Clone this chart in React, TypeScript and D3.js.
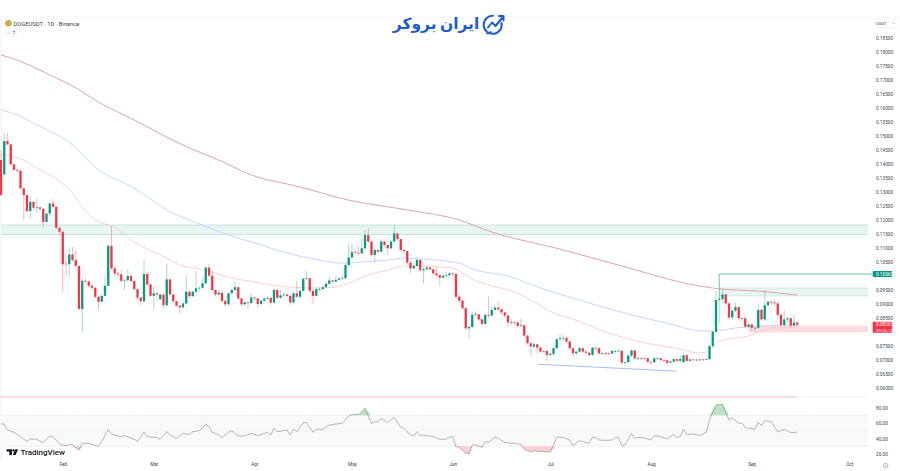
import React, { useEffect, useRef } from 'react';
import * as d3 from 'd3';

// first daily candle of the visible range
const firstDay = Date.UTC(2025, 0, 13);
const dayMs = 86400000;

const opens = [
  .1414, .1363, .1482, .1470, .1399, .1379, .1376, .1313, .1289, .1232,
  .1265, .1244, .1245, .1240, .1193, .1223, .1259, .1247, .1172, .1158,
  .1044, .1042, .1077, .1057, .1036, .0882, .0983, .0980, .0965, .0958,
  .0926, .0908, .0929, .0965, .1108, .1027, .1009, .1006, .0983, .0985,
  .1000, .0982, .0953, .0923, .0910, .1007, .0970, .0929, .0938, .0917,
  .0934, .0896, .0988, .0934, .0910, .0894, .0888, .0902, .0944, .0928,
  .0944, .0956, .0958, .0974, .1030, .1001, .0950, .0934, .0940, .0911,
  .0899, .0938, .0950, .0960, .0920, .0899, .0906, .0903, .0923, .0920,
  .0900, .0912, .0919, .0922, .0905, .0950, .0922, .0931, .0934, .0929,
  .0906, .0938, .0926, .0947, .0990, .0992, .0947, .0929, .0953, .0953,
  .0960, .0972, .0984, .0980, .0986, .0991, .0992, .1039, .1066, .1085,
  .1083, .1081, .1099, .1146, .1123, .1075, .1093, .1087, .1123, .1111,
  .1099, .1123, .1152, .1132, .1093, .1089, .1048, .1027, .1036, .1057,
  .1021, .1024, .1030, .1024, .1009, .1003, .0994, .1001, .1003, .1009,
  .1007, .0926, .0912, .0885, .0813, .0818, .0861, .0863, .0845, .0829,
  .0861, .0859, .0879, .0887, .0881, .0870, .0859, .0834, .0836, .0834,
  .0822, .0824, .0787, .0760, .0748, .0756, .0744, .0730, .0732, .0718,
  .0722, .0742, .0774, .0778, .0779, .0766, .0742, .0724, .0730, .0742,
  .0730, .0726, .0718, .0744, .0742, .0724, .0725, .0724, .0723, .0732,
  .0732, .0733, .0691, .0692, .0716, .0734, .0706, .0707, .0705, .0706,
  .0694, .0692, .0706, .0706, .0700, .0699, .0690, .0694, .0703, .0697,
  .0692, .0717, .0697, .0702, .0701, .0700, .0702, .0701, .0703, .0750,
  .0801, .0914, .0917, .0934, .0902, .0852, .0876, .0889, .0849, .0849,
  .0819, .0827, .0815, .0815, .0879, .0845, .0896, .0908, .0905, .0902,
  .0861, .0825, .0845, .0849, .0823, .0834,
];

const closes = [
  .1289, .1482, .1470, .1399, .1379, .1376, .1313, .1289, .1232, .1265,
  .1244, .1245, .1240, .1193, .1223, .1259, .1247, .1172, .1158, .1042,
  .1042, .1077, .1057, .1036, .0882, .0983, .0980, .0965, .0958, .0926,
  .0908, .0929, .0965, .1108, .1027, .1009, .1006, .0983, .0985, .1000,
  .0982, .0953, .0923, .0910, .1007, .0970, .0929, .0938, .0934, .0934,
  .0896, .0988, .0934, .0910, .0894, .0888, .0902, .0944, .0928, .0944,
  .0956, .0958, .0974, .1030, .1001, .0950, .0934, .0940, .0911, .0899,
  .0938, .0950, .0960, .0920, .0899, .0906, .0903, .0923, .0920, .0900,
  .0912, .0919, .0922, .0905, .0950, .0922, .0931, .0934, .0929, .0906,
  .0938, .0926, .0947, .0990, .0992, .0947, .0929, .0953, .0953, .0960,
  .0972, .0984, .0980, .0986, .0991, .0992, .1039, .1066, .1085, .1083,
  .1081, .1099, .1146, .1123, .1075, .1093, .1087, .1123, .1111, .1099,
  .1123, .1152, .1132, .1093, .1089, .1048, .1027, .1036, .1057, .1021,
  .1024, .1030, .1024, .1009, .1003, .0994, .1001, .1003, .1009, .1007,
  .0926, .0912, .0885, .0813, .0818, .0861, .0863, .0845, .0829, .0861,
  .0859, .0879, .0887, .0881, .0870, .0859, .0834, .0836, .0834, .0822,
  .0824, .0787, .0760, .0748, .0756, .0744, .0730, .0732, .0718, .0722,
  .0742, .0774, .0778, .0779, .0766, .0742, .0724, .0730, .0742, .0730,
  .0726, .0718, .0744, .0742, .0724, .0725, .0724, .0723, .0732, .0732,
  .0733, .0691, .0692, .0716, .0734, .0706, .0707, .0705, .0706, .0694,
  .0692, .0706, .0706, .0700, .0699, .0690, .0694, .0703, .0697, .0704,
  .0717, .0697, .0702, .0701, .0700, .0702, .0701, .0703, .0750, .0801,
  .0914, .0917, .0934, .0902, .0852, .0876, .0889, .0849, .0849, .0819,
  .0827, .0815, .0815, .0879, .0845, .0896, .0908, .0905, .0902, .0861,
  .0825, .0845, .0849, .0823, .0834, .0826,
];

const highs = [
  .1450, .1509, .1512, .1472, .1395, .1382, .1378, .1315, .1290, .1285,
  .1268, .1277, .1248, .1242, .1225, .1262, .1275, .1248, .1175, .1160,
  .1075, .1104, .1104, .1092, .1038, .0990, .0990, .0982, .0973, .0960,
  .0928, .0935, .0998, .1112, .1178, .1036, .1012, .1021, .0990, .1024,
  .1003, .0984, .0955, .0925, .1059, .1016, .0972, .0967, .0942, .0936,
  .0936, .1043, .0990, .0936, .0912, .0896, .0905, .1003, .0948, .0947,
  .1019, .0962, .0991, .1036, .1043, .1021, .0952, .0945, .0942, .0914,
  .0940, .0955, .0980, .0962, .0922, .0908, .0908, .0938, .0926, .0922,
  .0916, .0925, .0930, .0925, .0960, .0956, .0953, .0940, .0936, .0932,
  .0944, .0980, .0950, .0994, .1019, .0996, .0950, .0958, .0960, .0965,
  .0980, .0998, .0986, .0998, .0996, .1004, .1044, .1117, .1117, .1093,
  .1108, .1134, .1164, .1170, .1125, .1100, .1097, .1132, .1125, .1113,
  .1130, .1184, .1155, .1130, .1096, .1091, .1050, .1048, .1066, .1060,
  .1032, .1036, .1035, .1026, .1032, .1006, .1006, .1016, .1016, .1012,
  .1009, .0940, .0916, .0888, .0826, .0873, .0873, .0865, .0848, .0868,
  .0926, .0890, .0894, .0909, .0884, .0872, .0862, .0848, .0841, .0836,
  .0849, .0826, .0790, .0762, .0765, .0757, .0748, .0736, .0735, .0726,
  .0745, .0778, .0792, .0790, .0785, .0767, .0745, .0733, .0747, .0745,
  .0735, .0730, .0747, .0746, .0745, .0730, .0728, .0728, .0736, .0738,
  .0738, .0735, .0695, .0720, .0738, .0736, .0713, .0710, .0710, .0708,
  .0698, .0710, .0710, .0708, .0703, .0702, .0698, .0707, .0707, .0720,
  .0722, .0720, .0705, .0704, .0705, .0705, .0705, .0706, .0755, .0804,
  .0948, .0925, .0950, .0938, .0905, .0880, .0905, .0892, .0855, .0852,
  .0830, .0828, .0818, .0902, .0882, .0950, .0912, .0912, .0916, .0905,
  .0865, .0879, .0853, .0851, .0861, .0838,
];

const lows = [
  .1289, .1363, .1468, .1397, .1375, .1373, .1311, .1200, .1229, .1202,
  .1235, .1223, .1236, .1176, .1190, .1212, .1243, .1168, .1146, .0944,
  .0998, .0998, .1050, .1030, .0880, .0799, .0975, .0960, .0950, .0920,
  .0879, .0905, .0927, .0962, .1022, .1000, .0998, .0975, .0952, .0980,
  .0976, .0948, .0915, .0896, .0905, .0965, .0925, .0876, .0912, .0912,
  .0884, .0890, .0928, .0905, .0890, .0867, .0885, .0900, .0920, .0925,
  .0935, .0942, .0955, .0970, .0995, .0945, .0928, .0930, .0905, .0890,
  .0895, .0935, .0948, .0915, .0891, .0893, .0881, .0900, .0912, .0888,
  .0893, .0908, .0915, .0897, .0900, .0918, .0918, .0925, .0925, .0897,
  .0900, .0920, .0920, .0945, .0985, .0942, .0900, .0925, .0948, .0950,
  .0955, .0970, .0975, .0978, .0985, .0985, .0990, .1035, .1062, .1075,
  .1070, .1078, .1095, .1118, .1070, .1051, .1080, .1085, .1105, .1075,
  .1095, .1120, .1125, .1088, .1080, .1042, .1010, .1024, .1034, .1015,
  .0974, .1020, .1018, .1003, .0998, .0964, .0990, .0995, .1000, .1000,
  .0918, .0905, .0880, .0808, .0778, .0815, .0855, .0838, .0820, .0825,
  .0850, .0855, .0875, .0875, .0862, .0850, .0820, .0825, .0828, .0815,
  .0818, .0780, .0755, .0715, .0740, .0722, .0725, .0725, .0694, .0715,
  .0715, .0740, .0768, .0770, .0760, .0735, .0710, .0715, .0725, .0725,
  .0718, .0712, .0715, .0732, .0718, .0718, .0715, .0716, .0720, .0725,
  .0725, .0685, .0682, .0688, .0710, .0700, .0700, .0700, .0698, .0688,
  .0682, .0688, .0698, .0693, .0692, .0684, .0688, .0692, .0692, .0692,
  .0697, .0692, .0696, .0695, .0695, .0695, .0696, .0698, .0698, .0745,
  .0795, .0831, .0905, .0895, .0845, .0845, .0870, .0840, .0838, .0812,
  .0815, .0806, .0801, .0810, .0840, .0840, .0890, .0895, .0895, .0855,
  .0820, .0820, .0835, .0815, .0822, .0820,
];

// moving averages, read at the bends of each line: [candle number, price]
const ma200: [number, number][] = [
  [0, .1789], [5, .1771], [10, .1746], [17, .1707], [22, .1679], [30, .1621], [41, .1557],
  [51, .1496], [58, .1457], [67, .1414], [77, .1361], [92, .1318], [107, .1271], [125, .1236],
  [141, .1200], [150, .1161], [173, .1093], [190, .1039], [215, .0964], [221, .0954],
  [233, .0946], [245, .0932],
];
const ma100: [number, number][] = [
  [0, .1593], [5, .1575], [10, .1546], [16, .1511], [20, .1486], [30, .1379], [41, .1314],
  [51, .1236], [61, .1186], [70, .1146], [78, .1118], [88, .1082], [98, .1057], [105, .1046],
  [111, .1050], [119, .1057], [124, .1064], [129, .1061], [141, .1046], [145, .1025],
  [156, .1000], [166, .0957], [176, .0921], [186, .0886], [197, .0853], [207, .0825],
  [215, .0804], [220, .0804], [226, .0814], [233, .0821], [245, .0825],
];
const ma50: [number, number][] = [
  [0, .1432], [4, .1425], [7, .1414], [11, .1386], [16, .1354], [22, .1296], [25, .1246],
  [30, .1193], [34, .1179], [41, .1121], [51, .1064], [55, .1039], [61, .1025], [67, .1007],
  [70, .0996], [78, .0979], [88, .0961], [98, .0957], [103, .0961], [108, .0979], [113, .1004],
  [119, .1021], [124, .1036], [131, .1036], [135, .1032], [139, .1029], [142, .1011],
  [145, .0989], [150, .0968], [158, .0943], [164, .0907], [170, .0868], [176, .0846],
  [186, .0800], [197, .0764], [207, .0743], [215, .0725], [218, .0732], [220, .0761],
  [224, .0775], [230, .0786], [233, .0800], [237, .0814], [245, .0818],
];

const rsi: [number, number][] = [
  [0, 58.7], [1, 58.7], [2, 51], [4, 48], [6, 42.4], [8, 36], [9, 39.4], [11, 39], [13, 34.7],
  [15, 43.3], [16, 42.4], [18, 33], [20, 30.4], [21, 32.5], [22, 31.6], [24, 25], [25, 33.8],
  [27, 33.8], [29, 30.8], [30, 30], [31, 36], [33, 51.9], [34, 45.4], [37, 42.4], [38, 43.7],
  [41, 39], [42, 36], [44, 48], [45, 42.4], [48, 41.1], [49, 39], [51, 48.8], [52, 44.5],
  [54, 40.2], [56, 46.7], [58, 45.4], [59, 48.8], [61, 50.1], [63, 58.3], [64, 55.3], [65, 47.6],
  [66, 46.7], [68, 41.1], [70, 48], [71, 50.1], [73, 43.3], [75, 43.3], [77, 46.7], [79, 43.7],
  [82, 48], [83, 44.5], [84, 53.2], [85, 48.8], [88, 51], [89, 44.5], [90, 51.9], [91, 48.8],
  [93, 60.5], [94, 60.5], [96, 48], [97, 51.9], [99, 51.9], [101, 57.4], [103, 58.7], [105, 59.6],
  [107, 69], [108, 71], [110, 71], [112, 79], [114, 59.6], [115, 61.8], [116, 61.8],
  [117, 66], [119, 60.5], [121, 67.3], [123, 54.4], [124, 53.2], [126, 44.5], [127, 43.3],
  [128, 48.8], [129, 43.3], [130, 44.5], [133, 42.4], [135, 39], [137, 39], [138, 41.5],
  [139, 42.4], [140, 29.5], [141, 28.6], [143, 20.9], [144, 20], [145, 31.6], [146, 31.6],
  [148, 28.6], [149, 36], [150, 35], [152, 41.5], [153, 40.2], [155, 34.7], [158, 33.8],
  [160, 32.5], [161, 26], [163, 22.6], [164, 24.3], [165, 23.5], [167, 23], [169, 22.6],
  [171, 41.5], [173, 41.5], [175, 38], [176, 30.8], [178, 37.2], [181, 33.8], [182, 41.5],
  [183, 41.1], [184, 38], [186, 37.7], [188, 38], [189, 41.5], [190, 41.5], [191, 30.8],
  [192, 31.6], [194, 46.7], [195, 40.2], [196, 41.5], [198, 40.7], [200, 38], [201, 43.7],
  [203, 42.4], [205, 39.4], [207, 45.4], [208, 41.1], [209, 42.4], [210, 51.9], [211, 45.4],
  [213, 45.8], [215, 43.7], [217, 48], [218, 63.9], [220, 83.3], [222, 84.1], [224, 63.9],
  [225, 66.9], [227, 59.6], [228, 59.6], [229, 54], [230, 53.2], [232, 51.9], [233, 60.9],
  [234, 56.6], [235, 63], [237, 61.8], [239, 48.8], [241, 51.9], [243, 47.6], [245, 48],
];

const priceTicks = [
  .185, .18, .175, .17, .165, .16, .155, .15, .145, .14, .135, .13, .125, .12, .115, .11, .105,
  .095, .09, .085, .075, .07, .065, .06,
];
const rsiTicks = [80, 60, 40, 20];
const monthLabels = ['Feb', 'Mar', 'Apr', 'May', 'Jun', 'Jul', 'Aug', 'Sep', 'Oct'];

const upColor = '#089981';
const downColor = '#f23645';

const day = (i: number) => new Date(firstDay + i * dayMs);

const App: React.FC = () => {
  const ref = useRef<SVGSVGElement>(null);

  useEffect(() => {
    const svg = d3.select(ref.current);
    svg.selectAll('*').remove();

    const plotRight = 868;
    const font = 'Roboto, "Liberation Sans", sans-serif';

    const x = d3.scaleUtc().domain([day(0), day(245)]).range([1, 797.25]);
    const y = d3.scaleLinear().domain([0.185, 0.06]).range([38, 388]);
    const yRsi = d3.scaleLinear().domain([80, 20]).range([407.5, 454]);

    svg.append('rect').attr('width', 900).attr('height', 471).attr('fill', '#fff');

    // frame
    svg.append('line').attr('x1', 0).attr('x2', 900).attr('y1', 17).attr('y2', 17).attr('stroke', '#f3f4f6').attr('stroke-width', 0.8);
    svg.append('line').attr('x1', 1.2).attr('x2', 1.2).attr('y1', 17).attr('y2', 460).attr('stroke', '#eceef2').attr('stroke-width', 0.8);
    svg.append('line').attr('x1', 797).attr('x2', plotRight).attr('y1', 397).attr('y2', 397).attr('stroke', '#f0f1f4').attr('stroke-width', 0.8);

    // supply / demand zones
    const zone = (from: number, top: number, bottom: number, fill: string, edge: string) => {
      svg.append('rect')
        .attr('x', x(day(from)))
        .attr('y', y(top))
        .attr('width', plotRight - x(day(from)))
        .attr('height', y(bottom) - y(top))
        .attr('fill', fill);
      [top, bottom].forEach(p => {
        svg.append('line')
          .attr('x1', x(day(from))).attr('x2', plotRight)
          .attr('y1', y(p)).attr('y2', y(p))
          .attr('stroke', edge).attr('stroke-width', 0.8);
      });
    };
    zone(0, 0.1182, 0.1148, '#e7f4f1', '#b4dfd6');
    zone(221, 0.0957, 0.0929, '#e7f4f1', '#c4e6de');
    zone(230, 0.0821, 0.08, '#fcdcdf', '#fcdcdf');

    // pale band above the RSI pane
    svg.append('line')
      .attr('x1', 0).attr('x2', x(day(245)))
      .attr('y1', y(0.0568)).attr('y2', y(0.0568))
      .attr('stroke', '#fcd3d6').attr('stroke-width', 1.4);

    // lower trend line
    svg.append('line')
      .attr('x1', x(day(165))).attr('x2', x(day(208)))
      .attr('y1', y(0.0685)).attr('y2', y(0.066))
      .attr('stroke', '#9db6f5').attr('stroke-width', 0.9);

    // moving averages
    const maLine = d3.line<[number, number]>()
      .x(d => x(day(d[0])))
      .y(d => y(d[1]))
      .curve(d3.curveMonotoneX);
    const mas: [[number, number][], string][] = [[ma200, '#dc979c'], [ma100, '#bfd1fd'], [ma50, '#fdcaca']];
    mas.forEach(([pts, color]) => {
      svg.append('path').attr('d', maLine(pts)).attr('fill', 'none').attr('stroke', color).attr('stroke-width', 0.9);
    });

    // measure line up to the green price tag
    svg.append('path')
      .attr('d', d3.line()([[x(day(221)), y(0.0917)], [x(day(221)), y(0.1007)], [872, y(0.1007)]]))
      .attr('fill', 'none').attr('stroke', '#5fbba5').attr('stroke-width', 0.9);

    // candles
    const candles = d3.range(closes.length);
    const colorOf = (i: number) => (closes[i] >= opens[i] ? upColor : downColor);
    svg.append('g').selectAll('line').data(candles).join('line')
      .attr('x1', i => x(day(i))).attr('x2', i => x(day(i)))
      .attr('y1', i => y(highs[i])).attr('y2', i => y(lows[i]))
      .attr('stroke', colorOf).attr('stroke-opacity', 0.4).attr('stroke-width', 0.9);
    svg.append('g').selectAll('rect').data(candles).join('rect')
      .attr('x', i => x(day(i)) - 1.15)
      .attr('width', 2.3)
      .attr('y', i => y(Math.max(opens[i], closes[i])))
      .attr('height', i => Math.max(0.7, Math.abs(y(opens[i]) - y(closes[i]))))
      .attr('fill', colorOf);

    // price axis
    const priceAxis = svg.append('g')
      .attr('transform', 'translate(876,0)')
      .call(d3.axisRight(y).tickValues(priceTicks).tickSize(0).tickPadding(0).tickFormat(d3.format('.5f') as any));
    priceAxis.select('.domain').remove();
    priceAxis.selectAll('text').attr('font-family', font).attr('font-size', 4.7).attr('fill', '#3a3e4a');

    // price tags
    svg.append('rect').attr('x', 872.7).attr('y', y(0.1007) - 3).attr('width', 19.5).attr('height', 6).attr('rx', 0.8).attr('fill', upColor);
    svg.append('text').attr('x', 876).attr('y', y(0.1007) + 1.7).attr('font-family', font).attr('font-size', 4.7).attr('fill', '#fff').text('0.10060');
    svg.append('rect').attr('x', 872.7).attr('y', y(0.0826) - 3).attr('width', 19.5).attr('height', 11).attr('rx', 0.8).attr('fill', downColor);
    svg.append('text').attr('x', 876).attr('y', y(0.0826) + 1.7).attr('font-family', font).attr('font-size', 4.7).attr('fill', '#fff').text('0.08261');
    svg.append('text').attr('x', 876).attr('y', y(0.0826) + 7).attr('font-family', font).attr('font-size', 4.4).attr('fill', '#fde3e5').text('09:26:14');

    // USDT box
    svg.append('rect').attr('x', 874.5).attr('y', 19).attr('width', 21.5).attr('height', 8.5).attr('fill', '#fff').attr('stroke', '#eceef2').attr('stroke-width', 0.6);
    svg.append('text').attr('x', 876).attr('y', 25).attr('font-family', font).attr('font-size', 4.3).attr('fill', '#3a3e4a').text('USDT');
    svg.append('path').attr('d', 'M892.5 23 l1 1 l1 -1').attr('fill', 'none').attr('stroke', '#666').attr('stroke-width', 0.4);

    // RSI pane
    svg.append('rect')
      .attr('x', 1.2).attr('width', plotRight - 1.2)
      .attr('y', yRsi(70)).attr('height', yRsi(30) - yRsi(70))
      .attr('fill', '#f9f9f9');
    [70, 50, 30].forEach(level => {
      svg.append('line')
        .attr('x1', 1.2).attr('x2', plotRight)
        .attr('y1', yRsi(level)).attr('y2', yRsi(level))
        .attr('stroke', level === 50 ? '#d8d9dc' : '#bfc1c5')
        .attr('stroke-width', 0.4).attr('stroke-dasharray', '1.4 1.4');
    });
    const over = d3.area<[number, number]>()
      .x(d => x(day(d[0])))
      .y0(yRsi(70))
      .y1(d => yRsi(Math.max(70, d[1])));
    const under = d3.area<[number, number]>()
      .x(d => x(day(d[0])))
      .y0(yRsi(30))
      .y1(d => yRsi(Math.min(30, d[1])));
    svg.append('path').attr('d', over(rsi)).attr('fill', '#a9dcb0').attr('fill-opacity', 0.8);
    svg.append('path').attr('d', under(rsi)).attr('fill', '#f9c3c6').attr('fill-opacity', 0.8);
    const rsiLine = d3.line<[number, number]>().x(d => x(day(d[0]))).y(d => yRsi(d[1]));
    svg.append('path').attr('d', rsiLine(rsi)).attr('fill', 'none').attr('stroke', '#8a8a8a').attr('stroke-width', 0.6);

    const rsiAxis = svg.append('g')
      .attr('transform', 'translate(876,0)')
      .call(d3.axisRight(yRsi).tickValues(rsiTicks).tickSize(0).tickPadding(0).tickFormat(d3.format('.2f') as any));
    rsiAxis.select('.domain').remove();
    rsiAxis.selectAll('text').attr('font-family', font).attr('font-size', 4.7).attr('fill', '#3a3e4a');

    // month axis
    const months = monthLabels.map((_, i) => new Date(Date.UTC(2025, i + 1, 1)));
    const timeAxis = svg.append('g')
      .attr('transform', 'translate(0,462.5)')
      .call(d3.axisBottom(x).tickValues(months).tickSize(0).tickPadding(0).tickFormat((_, i) => monthLabels[i]));
    timeAxis.select('.domain').remove();
    timeAxis.selectAll('text').attr('font-family', font).attr('font-size', 4.7).attr('fill', '#3a3e4a');
    svg.append('circle').attr('cx', 885.7).attr('cy', 465.6).attr('r', 2.3).attr('fill', 'none').attr('stroke', '#777').attr('stroke-width', 0.5);
    svg.append('circle').attr('cx', 885.7).attr('cy', 465.6).attr('r', 0.7).attr('fill', '#777');

    // legend
    svg.append('circle').attr('cx', 8.5).attr('cy', 23.3).attr('r', 3.3).attr('fill', '#d3a941');
    svg.append('text').attr('x', 13.5).attr('y', 25.6).attr('font-family', font).attr('font-size', 5.8).attr('fill', '#3a3e4a').text('DOGEUSDT · 1D · Binance');
    svg.append('rect').attr('x', 5.2).attr('y', 29.6).attr('width', 11.8).attr('height', 6.8).attr('fill', '#fff').attr('stroke', '#eceef2').attr('stroke-width', 0.5);
    svg.append('path').attr('d', 'M7.4 32.3 l1.4 1.2 l1.4 -1.2').attr('fill', 'none').attr('stroke', '#666').attr('stroke-width', 0.4);
    svg.append('text').attr('x', 12.6).attr('y', 35).attr('font-family', font).attr('font-size', 4.8).attr('fill', '#3a3e4a').text('7');

    // brand
    svg.append('text')
      .attr('x', 436).attr('y', 29)
      .attr('text-anchor', 'middle')
      .attr('direction', 'rtl')
      .attr('word-spacing', -2)
      .attr('font-family', '"DejaVu Sans", sans-serif')
      .attr('font-weight', 700)
      .attr('font-size', 15.5)
      .attr('fill', '#1d5bd8')
      .text('ایران بروکر');
    const brand = svg.append('g').attr('fill', 'none').attr('stroke', '#1d5bd8').attr('stroke-width', 2).attr('stroke-linecap', 'round').attr('stroke-linejoin', 'round');
    brand.append('path').attr('d', 'M501.5 23 A9 9 0 1 1 493 15.8');
    brand.append('path').attr('d', 'M488 27.5 L492 22.5 L495.5 26 L503 17');
    brand.append('path').attr('d', 'M499 16 L503.5 16 L503.5 20.5');
    brand.append('path').attr('d', 'M487 33.5 L491 32').attr('stroke-width', 1.6);

    // TradingView mark
    svg.append('path').attr('d', 'M6.5 449.3 H12 V455 H9.3 V451.4 H6.5 Z').attr('fill', '#131722');
    svg.append('circle').attr('cx', 13.4).attr('cy', 450.4).attr('r', 1.1).attr('fill', '#131722');
    svg.append('path').attr('d', 'M15 449.3 H18 L15.7 455 H12.9 Z').attr('fill', '#131722');
    svg.append('text').attr('x', 20.4).attr('y', 455).attr('font-family', font).attr('font-weight', 500).attr('font-size', 8).attr('fill', '#131722').text('TradingView');
  }, []);

  return <svg ref={ref} width={900} height={471} style={{ position: 'fixed', left: 0, top: 0 }} />;
};

export default App;
